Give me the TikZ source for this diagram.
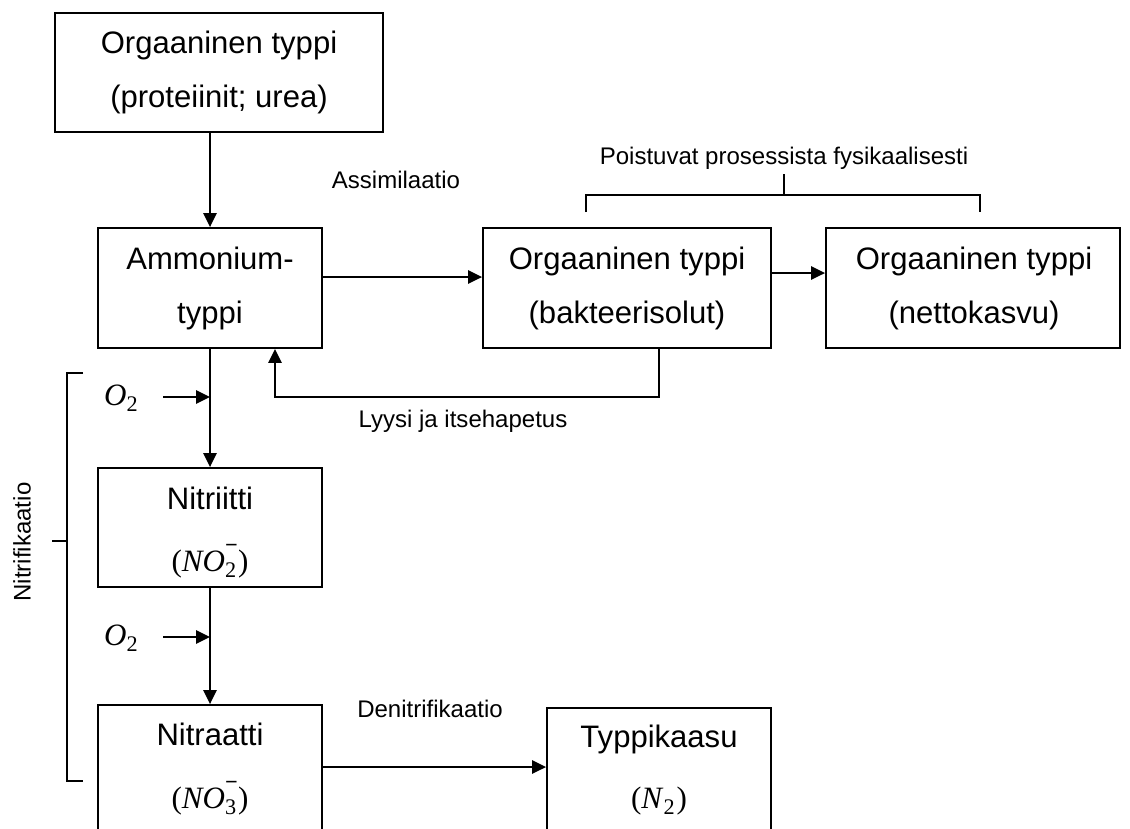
\documentclass[tikz,border=0pt]{standalone}
\usepackage{fontspec}
\setmainfont{Liberation Sans}
\newfontfamily\formfont{Liberation Serif}
\usetikzlibrary{arrows.meta}

% ion formula: (#1 with subscript #2 and superscript #3)
\newcommand\ionform[3]{{\formfont(\textit{#1}\makebox[0pt][l]{\raisebox{0.6em}{\fontsize{19pt}{19pt}\selectfont\bfseries #3}}\raisebox{-0.22em}{\fontsize{19pt}{19pt}\selectfont #2}\hspace{0.06em})}}
\newcommand\oxy{{\formfont\textit{O}\raisebox{-0.22em}{\fontsize{19pt}{19pt}\selectfont 2}}}

\tikzset{
  box/.style 2 args={draw, line width=1.6pt, inner sep=0pt,
    minimum width=#1*0.03cm, minimum height=#2*0.03cm},
  big/.style={anchor=base, inner sep=0pt, font=\fontsize{26.5pt}{32pt}\selectfont},
  small/.style={anchor=base, inner sep=0pt, font=\fontsize{20.5pt}{24pt}\selectfont},
  arr/.style={line width=1.5pt, -{Triangle[length=0.42cm,width=0.4cm]}},
  brk/.style={line width=1.5pt},
}

\begin{document}
\begin{tikzpicture}[x=0.03cm, y=-0.03cm]
\useasboundingbox (0,0) rectangle (1130,828);
\clip (0,0) rectangle (1130,828);

% boxes
\node[box={328}{119}] (org) at (219,72.5) {};
\node[box={224}{120}] (amm) at (210,288) {};
\node[box={288}{120}] (bak) at (627,288) {};
\node[box={294}{120}] (net) at (973,288) {};
\node[box={224}{119}] (nii) at (210,527.5) {};
\node[box={224}{160}] (naa) at (210,785) {};
\node[box={224}{160}] (typ) at (659,788) {};

% box texts
\node[big] (orgA) at (219,53) {Orgaaninen typpi};
\node[big] (orgB) at (219,107) {(proteiinit; urea)};
\node[big] (ammA) at (210,269) {Ammonium-};
\node[big] (ammB) at (210,323) {typpi};
\node[big] (bakA) at (627,269) {Orgaaninen typpi};
\node[big] (bakB) at (627,323) {(bakteerisolut)};
\node[big] (netA) at (974,269) {Orgaaninen typpi};
\node[big] (netB) at (974,323) {(nettokasvu)};
\node[big] (niiA) at (210,509) {Nitriitti};
\node[big] (niiB) at (210,571) {\ionform{NO}{2}{−}};
\node[big] (naaA) at (210,745) {Nitraatti};
\node[big] (naaB) at (210,808) {\ionform{NO}{3}{−}};
\node[big] (typA) at (659,747) {Typpikaasu};
\node[big] (typB) at (659,808) {\ionform{N}{2}{}};

% process labels
\node[small] (lAssim) at (396,188) {Assimilaatio};
\node[small] (lPois) at (784,164) {Poistuvat prosessista fysikaalisesti};
\node[small] (lLyys) at (463,427) {Lyysi ja itsehapetus};
\node[small] (lDeni) at (430,717) {Denitrifikaatio};
\node[small, anchor=center, rotate=90] (lNitr) at (22,542) {Nitrifikaatio};
\node[big, anchor=base west] (o2a) at (104,405) {\oxy};
\node[big, anchor=base west] (o2b) at (104,645) {\oxy};

% helper coordinates
\coordinate (spine) at (210,0);
\coordinate (assimY) at (0,277);
\coordinate (growY) at (0,273);
\coordinate (deniY) at (0,767);
\coordinate (fbR) at (659,397);
\coordinate (fbL) at (275,397);
\coordinate (o2aTail) at (163,397);
\coordinate (o2aHead) at (210,397);
\coordinate (o2bTail) at (163,637);
\coordinate (o2bHead) at (210,637);

% connectors
\draw[arr] (org.south -| spine) -- (amm.north -| spine);
\draw[arr] (amm.east |- assimY) -- (bak.west |- assimY);
\draw[arr] (bak.east |- growY) -- (net.west |- growY);
\draw[arr] (bak.south -| fbR) -- (fbR) -- (fbL) -- (amm.south -| fbL);
\draw[arr] (amm.south -| spine) -- (nii.north -| spine);
\draw[arr] (nii.south -| spine) -- (naa.north -| spine);
\draw[arr] (naa.east |- deniY) -- (typ.west |- deniY);
\draw[arr] (o2aTail) -- (o2aHead);
\draw[arr] (o2bTail) -- (o2bHead);

% brackets
\draw[brk] (586,212) -- (586,195) -- (980,195) -- (980,212);
\draw[brk] (784,195) -- (784,174);
\draw[brk] (83,373) -- (67,373) -- (67,781) -- (83,781);
\draw[brk] (67,541) -- (52,541);
\end{tikzpicture}
\end{document}
